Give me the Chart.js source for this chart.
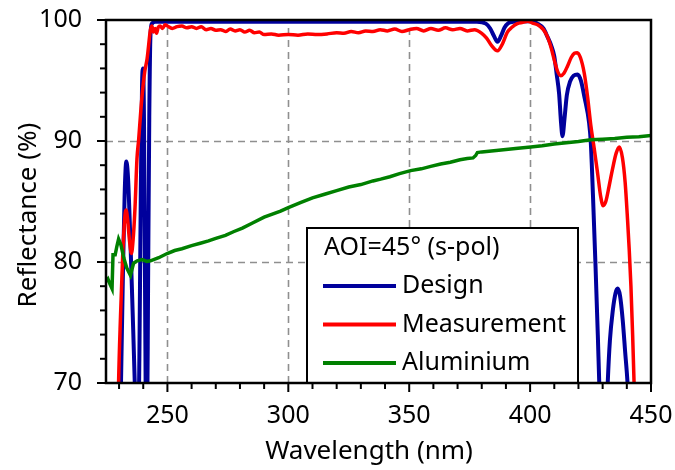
<!DOCTYPE html>
<html>
<head>
<meta charset="utf-8">
<script src="https://cdn.jsdelivr.net/npm/chart.js@4"></script>
<style>
  body { margin: 0; background: #fff; }
  #wrap { width: 675px; height: 470px; }
</style>
</head>
<body>
<div id="wrap"><canvas id="refl" width="675" height="470"></canvas></div>
<script>
// AOI = 45 deg, s-polarisation
const designWl = [229.5, 230.8, 231.6, 232.3, 233.0, 233.7, 234.7, 235.6, 236.5, 237.2, 237.8, 238.4, 239.0, 239.5, 239.9, 240.3, 240.8, 241.2, 241.6, 242.0, 242.5, 243.0, 243.6, 245, 300, 350, 378, 381.7, 383.5, 385, 386.5, 388, 389.5, 391, 393, 400, 403.1, 405.5, 407.2, 408.7, 410, 411, 412, 412.8, 413.4, 414.2, 415.2, 416.5, 418, 419.6, 421, 422.5, 424.4, 425.1, 426, 427, 428, 428.6, 429.5, 430.5, 431.3, 432.1, 433, 434.2, 435.3, 436.2, 437.2, 438.3, 439.3, 440.3, 441.5, 443];
const designR = [50, 70, 79, 85.5, 88.3, 87, 81.7, 76, 70, 64, 64, 72, 86, 94.5, 96, 92, 76, 66, 66, 78, 92, 98.8, 99.7, 99.85, 99.85, 99.85, 99.85, 99.7, 99.3, 98.7, 98.2, 98.7, 99.4, 99.75, 99.85, 99.9, 99.7, 99.3, 98.6, 97.9, 97.0, 95.5, 93.9, 91.5, 90.4, 91.8, 93.8, 94.9, 95.4, 95.5, 95.0, 93.6, 91.5, 89.9, 85.5, 80, 74, 70, 65, 63, 65.5, 70, 73.5, 76, 77.4, 77.8, 77.2, 75.2, 72.6, 70, 65, 60];

const measWl = [229.3, 229.8, 230.6, 231.5, 232.3, 232.9, 233.5, 234.3, 235.1, 235.8, 236.6, 237.4, 238.1, 239.0, 239.5, 240.6, 241.6, 243.0, 243.6, 244.2, 244.9, 245.5, 246.2, 247, 248, 249, 250, 252, 254, 256, 258, 260, 262, 264, 266, 268, 270, 272, 274, 276, 278, 280, 282, 284, 286, 288, 290, 293, 296, 300, 304, 308, 312, 316, 320, 323, 326, 329, 332, 335, 338, 341, 344, 347, 350, 353, 356, 359, 362, 365, 368, 371, 374, 377, 380, 382, 384, 386.5, 388.5, 390.6, 392.5, 394.7, 397, 399, 401, 403.1, 405.5, 407.2, 408.7, 410, 411.3, 412.7, 414, 415.5, 417, 418.3, 419.5, 420.8, 422.4, 423.8, 425.1, 426.5, 428, 429.2, 430.2, 431.3, 432.7, 434.1, 435.6, 436.9, 438.2, 439.3, 440.3, 441, 441.7, 442.4, 443, 444];
const measR = [64, 70, 75.5, 80.5, 83.5, 84.3, 83.6, 81.8, 80.7, 81.8, 84.5, 88.5, 90.1, 92.5, 93.7, 95.7, 96.8, 99.2, 99.5, 99.0, 99.3, 98.9, 99.4, 99.5, 99.3, 99.6, 99.5, 99.3, 99.45, 99.5, 99.35, 99.45, 99.3, 99.45, 99.2, 99.3, 99.15, 99.2, 99.05, 99.25, 99.1, 99.2, 99.0, 99.15, 98.95, 99.0, 98.8, 98.85, 98.75, 98.8, 98.75, 98.85, 98.8, 98.85, 98.95, 98.9, 99.05, 98.95, 99.1, 99.05, 99.2, 99.1, 99.25, 99.05, 99.2, 99.3, 99.1, 99.3, 99.15, 99.35, 99.2, 99.3, 99.1, 99.2, 98.9, 98.5, 97.9, 97.45, 98.0, 99.0, 99.4, 99.7, 99.8, 99.9, 99.75, 99.6, 99.2, 98.6, 97.7, 96.7, 95.8, 95.4, 95.6, 96.2, 96.9, 97.25, 97.3, 96.9, 95.6, 93.6, 91.3, 89.4, 87.2, 85.4, 84.65, 85.0, 86.3, 87.7, 89.0, 89.5, 88.6, 86.6, 83.5, 81, 78, 74, 70, 64];

const alWl = [224.6, 225.4, 226.2, 227.1, 227.5, 228.4, 229.1, 229.8, 230.8, 232.0, 233.2, 234.7, 236.0, 237.5, 239.5, 241.5, 243.0, 246.4, 249.9, 253, 256, 260, 263.6, 267, 270, 274, 277.3, 281, 285, 290, 296.8, 300, 305, 310, 315, 320, 325, 330, 335, 338.2, 342, 346, 350.6, 355, 358.9, 363, 367, 371, 374, 376.4, 377.5, 378.2, 380, 385, 390, 395, 400.3, 405, 410, 415, 420, 425.1, 430, 435, 440, 445, 450];
const alR = [78.4, 78.6, 78.2, 77.8, 80.6, 80.6, 81.3, 81.9, 81.4, 80.3, 79.5, 78.9, 79.9, 80.1, 80.2, 80.05, 80.1, 80.35, 80.7, 80.95, 81.1, 81.35, 81.55, 81.75, 81.95, 82.2, 82.5, 82.8, 83.2, 83.7, 84.2, 84.5, 84.9, 85.3, 85.6, 85.9, 86.2, 86.4, 86.7, 86.85, 87.05, 87.3, 87.55, 87.7, 87.9, 88.1, 88.25, 88.45, 88.55, 88.6, 88.8, 89.05, 89.1, 89.2, 89.3, 89.4, 89.5, 89.6, 89.75, 89.85, 89.95, 90.1, 90.15, 90.2, 90.3, 90.35, 90.45];

const xLabels = [250, 300, 350, 400, 450];
const yLabels = [70, 80, 90, 100];
const gridX = [250, 300, 350, 400];
const gridY = [80, 90];
const legendTitle = 'AOI=45° (s-pol)';

const FONT = '"Noto Sans", "DejaVu Sans", sans-serif';

function pts(xs, ys) {
    return xs.map((x, i) => ({ x: x, y: ys[i] }));
}

function line(ctx, x1, y1, x2, y2) {
    ctx.beginPath();
    ctx.moveTo(x1, y1);
    ctx.lineTo(x2, y2);
    ctx.stroke();
}

// labels may overhang the plot edges, so keep the box padding at zero
function noPad(s) {
    s.paddingLeft = 0;
    s.paddingRight = 0;
    s.paddingTop = 0;
    s.paddingBottom = 0;
}

// dashed grid under the curves, frame/ticks/legend/titles on top
const decor = {
    id: 'decor',
    beforeDatasetsDraw(chart) {
        const { ctx, chartArea: a, scales: { x, y } } = chart;
        ctx.save();
        ctx.strokeStyle = '#8f8f8f';
        ctx.lineWidth = 1.6;
        ctx.setLineDash([7, 5]);
        gridX.forEach(v => {
            const px = Math.round(x.getPixelForValue(v)) + 0.5;
            line(ctx, px, a.bottom, px, a.top);
        });
        gridY.forEach(v => {
            const py = Math.round(y.getPixelForValue(v)) + 0.5;
            line(ctx, a.left, py, a.right, py);
        });
        ctx.restore();
    },
    afterDatasetsDraw(chart) {
        const { ctx, chartArea: a, scales: { x, y } } = chart;
        ctx.save();

        // legend box
        const bx = 307, by = 228, bw = 271, bh = a.bottom - by;
        ctx.fillStyle = '#fff';
        ctx.fillRect(bx, by, bw, bh);
        ctx.strokeStyle = '#000';
        ctx.lineWidth = 2;
        ctx.strokeRect(bx, by, bw, bh);
        ctx.fillStyle = '#000';
        ctx.font = '25px ' + FONT;
        ctx.textBaseline = 'middle';
        ctx.textAlign = 'left';
        ctx.fillText(legendTitle, 324, 248);
        chart.data.datasets.forEach((ds, i) => {
            const ly = 286 + i * 38.5;
            ctx.strokeStyle = ds.borderColor;
            ctx.lineWidth = 4;
            line(ctx, 323, ly, 396, ly);
            ctx.fillStyle = '#000';
            ctx.fillText(ds.label, 402, ly);
        });

        // frame
        ctx.strokeStyle = '#000';
        ctx.lineWidth = 2.5;
        ctx.strokeRect(a.left, a.top, a.right - a.left, a.bottom - a.top);

        // outward tick marks
        ctx.lineWidth = 2;
        for (let v = 230; v <= 450; v += 10) {
            const px = x.getPixelForValue(v);
            line(ctx, px, a.bottom, px, a.bottom + (v % 50 === 0 ? 9 : 6));
        }
        for (let v = 70; v <= 100; v += 2) {
            const py = y.getPixelForValue(v);
            line(ctx, a.left, py, a.left - (v % 10 === 0 ? 9 : 6), py);
        }

        // axis titles
        ctx.fillStyle = '#000';
        ctx.font = '26px ' + FONT;
        ctx.textAlign = 'center';
        ctx.fillText('Wavelength (nm)', 369, 452);
        ctx.translate(29, 215);
        ctx.rotate(-Math.PI / 2);
        ctx.fillText('Reflectance (%)', 0, 0);
        ctx.restore();
    }
};

new Chart(document.getElementById('refl'), {
    type: 'line',
    data: {
        datasets: [{
            label: 'Design',
            data: pts(designWl, designR),
            borderColor: '#00009c',
            borderWidth: 4,
            cubicInterpolationMode: 'monotone',
            order: 3
        }, {
            label: 'Measurement',
            data: pts(measWl, measR),
            borderColor: '#ff0000',
            borderWidth: 3.5,
            cubicInterpolationMode: 'monotone',
            order: 2
        }, {
            label: 'Aluminium',
            data: pts(alWl, alR),
            borderColor: '#008000',
            borderWidth: 3.5,
            order: 1
        }]
    },
    options: {
        responsive: false,
        animation: false,
        devicePixelRatio: 1,
        layout: { padding: { left: 0, right: 24, top: 20, bottom: 0 } },
        elements: { point: { radius: 0 } },
        plugins: { legend: { display: false }, tooltip: { enabled: false } },
        scales: {
            x: {
                type: 'linear',
                min: 224.6,
                max: 450,
                afterFit: s => { s.height = 87; noPad(s); },
                afterBuildTicks: s => { s.ticks = xLabels.map(v => ({ value: v })); },
                grid: { display: false },
                border: { display: false },
                ticks: {
                    autoSkip: false,
                    maxRotation: 0,
                    padding: 10,
                    color: '#000',
                    font: { family: FONT, size: 25 }
                }
            },
            y: {
                min: 70,
                max: 100,
                afterFit: s => { s.width = 106; noPad(s); },
                afterBuildTicks: s => { s.ticks = yLabels.map(v => ({ value: v })); },
                grid: { display: false },
                border: { display: false },
                ticks: {
                    autoSkip: false,
                    padding: 16,
                    color: '#000',
                    font: { family: FONT, size: 25 }
                }
            }
        }
    },
    plugins: [decor]
});
</script>
</body>
</html>
